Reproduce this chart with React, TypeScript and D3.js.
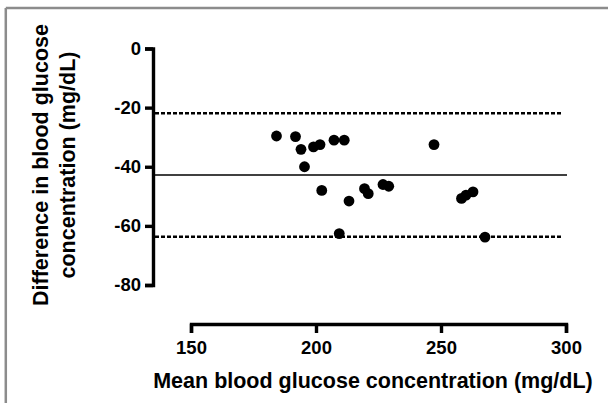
import React, { useRef, useEffect } from 'react';
import * as d3 from 'd3';

// mean blood glucose (x) vs difference (y), one entry per subject
const meanGlucose: number[] = [
    184.2, 191.8, 194.0, 195.4, 199.0, 201.6, 202.3, 207.2, 211.3, 209.3,
    213.2, 219.4, 220.9, 226.8, 229.1, 247.2, 258.2, 260.0, 262.8, 267.6,
];
const diffGlucose: number[] = [
    -29.6, -29.8, -34.1, -40.0, -33.3, -32.5, -48.0, -31.0, -31.0, -62.6,
    -51.6, -47.4, -49.1, -46.0, -46.6, -32.5, -50.7, -49.6, -48.5, -63.8,
];

// bias and limits of agreement
const bias: number = -42.8;
const limits: number[] = [-21.9, -63.7];

const xTicks: number[] = [150, 200, 250, 300];
const yTicks: number[] = [0, -20, -40, -60, -80];

const xTitle = 'Mean blood glucose concentration (mg/dL)';
const yTitle: string[] = ['Difference in blood glucose', 'concentration (mg/dL)'];

const width = 608;
const height = 403;
const font = '"Liberation Sans", Arial, Helvetica, sans-serif';

function App() {
    const d3Container = useRef(null);

    useEffect(() => {
        if (!d3Container.current) return;

        const x = d3.scaleLinear().domain([150, 300]).range([191, 566]);
        const y = d3.scaleLinear().domain([-80, 0]).range([285, 48.5]);
        const yAxisX = 153;
        const xAxisY = 324;

        const svg: any = d3.select(d3Container.current);
        svg.selectAll('*').remove();

        // frame (cropped figure border)
        svg.append('line')
            .attr('x1', 5.8).attr('x2', width)
            .attr('y1', 8).attr('y2', 8)
            .attr('stroke', '#8c8c8c').attr('stroke-width', 2.5);
        svg.append('line')
            .attr('x1', 5.8).attr('x2', 5.8)
            .attr('y1', 8).attr('y2', height)
            .attr('stroke', '#8c8c8c').attr('stroke-width', 2.5);

        // reference lines
        svg.append('line')
            .attr('x1', yAxisX).attr('x2', x(300) + 1)
            .attr('y1', y(bias)).attr('y2', y(bias))
            .attr('stroke', '#000').attr('stroke-width', 1.5);

        svg.append('g')
            .selectAll('line')
            .data(limits)
            .join('line')
                .attr('x1', yAxisX + 2).attr('x2', x(300) - 3)
                .attr('y1', (d: number) => y(d)).attr('y2', (d: number) => y(d))
                .attr('stroke', '#000').attr('stroke-width', 2.4)
                .attr('stroke-dasharray', '4,2');

        // points
        svg.append('g')
            .selectAll('circle')
            .data(meanGlucose.map((m, i) => [m, diffGlucose[i]]))
            .join('circle')
                .attr('cx', (d: number[]) => x(d[0]))
                .attr('cy', (d: number[]) => y(d[1]))
                .attr('r', 5.4)
                .attr('fill', '#000');

        const yAxis = (g: any) => g
            .attr('transform', `translate(${yAxisX},0)`)
            .call(d3.axisLeft(y).tickValues(yTicks).tickSize(8).tickSizeOuter(8).tickPadding(4)
                .tickFormat((d: any) => String(d)))
            .call((g: any) => g.selectAll('path, line').attr('stroke', '#000').attr('stroke-width', 3.4))
            .call((g: any) => g.selectAll('text')
                .attr('fill', '#000')
                .style('font-family', font)
                .style('font-weight', 'bold')
                .style('font-size', '18.5px'));

        const xAxis = (g: any) => g
            .attr('transform', `translate(0,${xAxisY})`)
            .call(d3.axisBottom(x).tickValues(xTicks).tickSize(9).tickSizeOuter(9).tickPadding(8))
            .call((g: any) => g.selectAll('path, line').attr('stroke', '#000').attr('stroke-width', 3.4))
            .call((g: any) => g.selectAll('text')
                .attr('fill', '#000')
                .style('font-family', font)
                .style('font-weight', 'bold')
                .style('font-size', '18.5px'));

        svg.append('g').attr('class', 'y-axis').call(yAxis);
        svg.append('g').attr('class', 'x-axis').call(xAxis);

        // axis titles
        svg.append('text')
            .attr('x', 373).attr('y', 388)
            .attr('text-anchor', 'middle')
            .style('font-family', font)
            .style('font-weight', 'bold')
            .style('font-size', '21.5px')
            .attr('fill', '#000')
            .text(xTitle);

        svg.append('g')
            .selectAll('text')
            .data(yTitle)
            .join('text')
                .attr('transform', (_d: string, i: number) => `translate(${48 + i * 26.5},165) rotate(-90)`)
                .attr('text-anchor', 'middle')
                .style('font-family', font)
                .style('font-weight', 'bold')
                .style('font-size', '21.5px')
                .attr('fill', '#000')
                .text((d: string) => d);
    }, []);

    return (
        <svg
            ref={d3Container}
            width={width}
            height={height}
            style={{ position: 'absolute', left: 0, top: 0, background: '#fff' }}
        />
    );
}

export default App;
